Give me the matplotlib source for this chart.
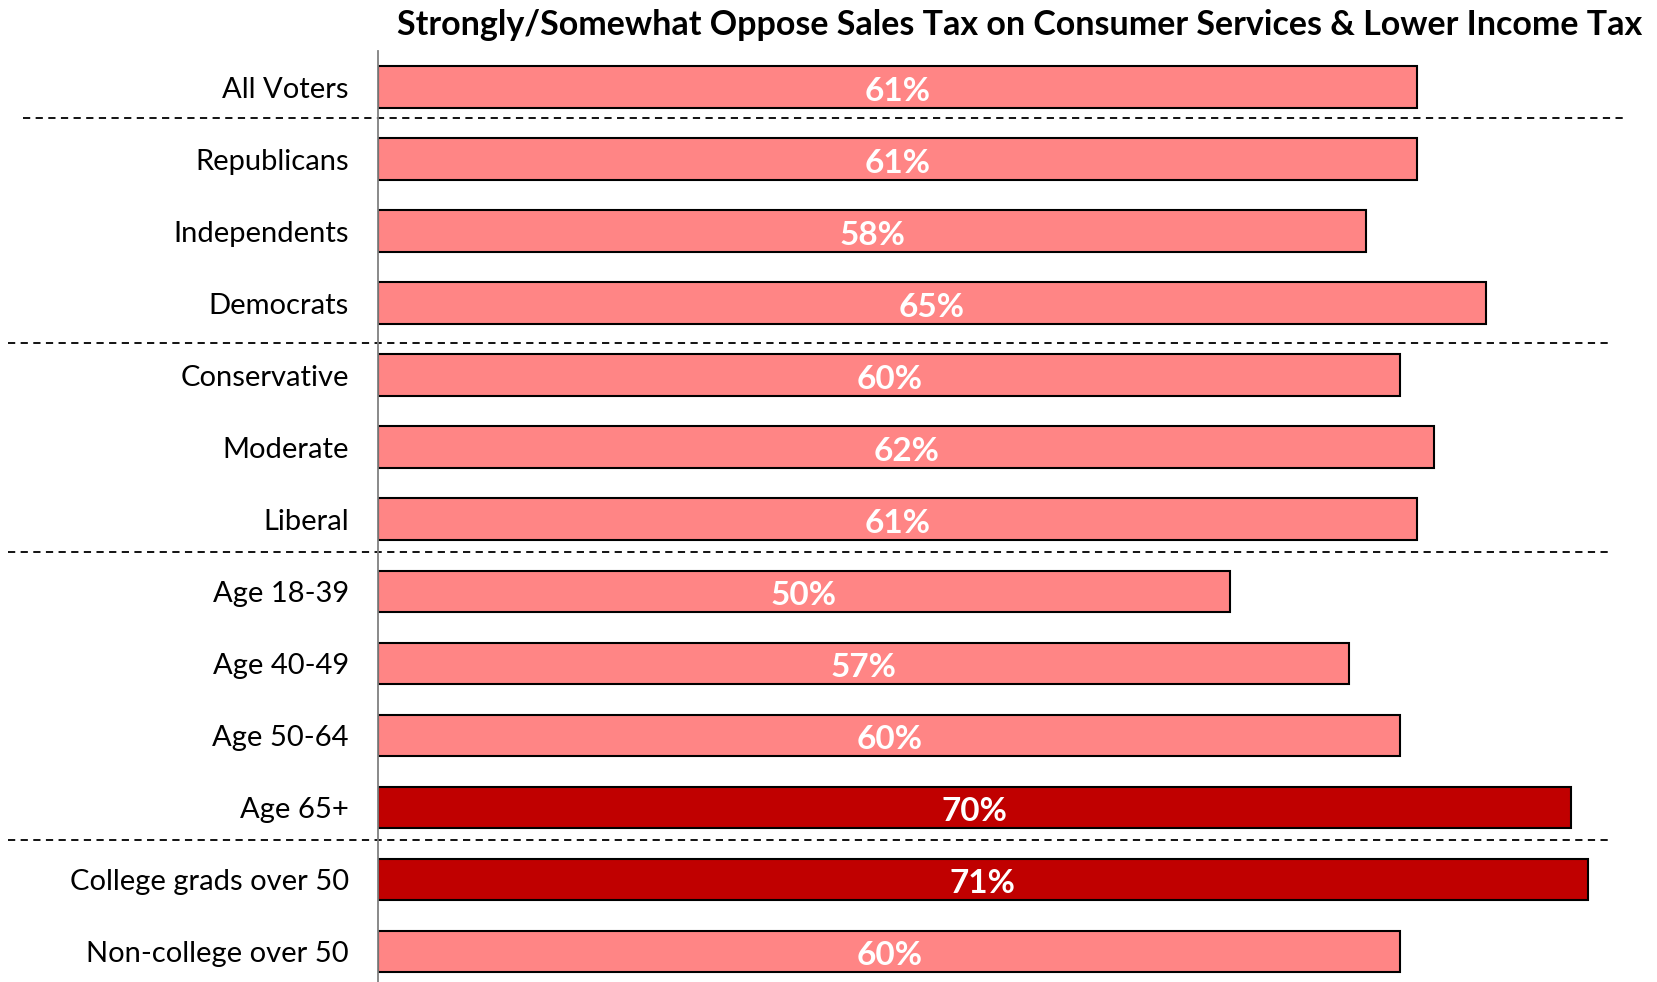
import matplotlib
matplotlib.use("Agg")
import matplotlib.pyplot as plt
import matplotlib.transforms as mtransforms

plt.rcParams['font.family'] = ['Lato', 'DejaVu Sans']

# ===================== DATA =====================
groups = ["All Voters", "Republicans", "Independents", "Democrats",
          "Conservative", "Moderate", "Liberal",
          "Age 18-39", "Age 40-49", "Age 50-64", "Age 65+",
          "College grads over 50", "Non-college over 50"]
oppose_pct = [61, 61, 58, 65, 60, 62, 61, 50, 57, 60, 70, 71, 60]
highlight = [False, False, False, False, False, False, False,
             False, False, False, True, True, False]
# section breaks fall after these row indexes
section_breaks = [0, 3, 6, 10]

TITLE = "Strongly/Somewhat Oppose Sales Tax on Consumer Services & Lower Income Tax"

LIGHT = "#FF8585"
DARK = "#C00000"

# ===================== PLOT =====================
fig = plt.figure(figsize=(16.58, 9.82), dpi=100)
ax = fig.add_axes([378 / 1658, 0.0, 1280 / 1658, 1 - 51 / 982])

rows = list(range(len(groups)))
colors = [DARK if h else LIGHT for h in highlight]
ax.barh(rows, oppose_pct, height=0.57, color=colors, edgecolor="black", linewidth=1.5)

for r, v in zip(rows, oppose_pct):
    ax.text(v / 2, r + 0.06, f"{v}%", ha="center", va="center",
            color="white", fontsize=24, fontweight="bold")

ax.set_xlim(0, 1280 / 17.04)
ax.set_ylim(len(groups) - 0.57, -0.5)

ax.set_yticks(rows)
ax.set_yticklabels(groups, fontsize=21)
ax.tick_params(axis="y", length=0, pad=21)
ax.set_xticks([])
for s in ["top", "right", "bottom"]:
    ax.spines[s].set_visible(False)
ax.spines["left"].set_color("#808080")
ax.spines["left"].set_linewidth(1.3)

# dashed separators between groups, running into the label area
trans = mtransforms.blended_transform_factory(fig.transFigure, ax.transData)
nudge = [-0.07, 0.06, -0.04, -0.04]
for i, b in enumerate(section_breaks):
    x0, x1 = (23 / 1658, 1625 / 1658) if i == 0 else (8 / 1658, 1609 / 1658)
    y = b + 0.5 + nudge[i]
    ax.plot([x0, x1], [y, y], transform=trans, color="black",
            linestyle=(0, (4, 3)), linewidth=1.3, clip_on=False)

fig.text(1020 / 1658, 1 - 25 / 982, TITLE, ha="center", va="center",
         fontsize=24.5, fontweight="bold")

fig.savefig("out.png", dpi=100)
